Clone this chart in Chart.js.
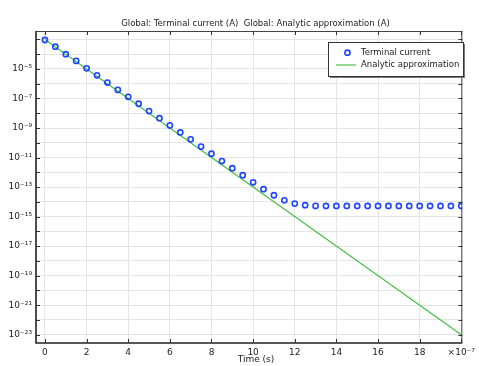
<!DOCTYPE html>
<html>
<head>
<meta charset="utf-8">
<script src="https://cdn.jsdelivr.net/npm/chart.js@4/dist/chart.umd.min.js"></script>
<style>
  html, body { margin:0; padding:0; background:#fff; }
</style>
</head>
<body>
<canvas id="chart" width="479" height="366"></canvas>
<script>
// time in units of 1e-7 s
let timeValues = [0, 0.5, 1, 1.5, 2, 2.5, 3, 3.5, 4, 4.5, 5, 5.5, 6, 6.5, 7, 7.5, 8, 8.5, 9, 9.5,
  10, 10.5, 11, 11.5, 12, 12.5, 13, 13.5, 14, 14.5, 15, 15.5, 16, 16.5, 17, 17.5, 18, 18.5, 19, 19.5, 20];
let terminalCurrent = [9.1e-4, 3.2e-4, 1.0e-4, 3.5e-5, 1.1e-5, 3.7e-6, 1.2e-6, 3.8e-7, 1.3e-7, 4.4e-8,
  1.4e-8, 4.6e-9, 1.5e-9, 5.0e-10, 1.7e-10, 5.5e-11, 1.8e-11, 5.8e-12, 1.9e-12, 6.3e-13,
  2.1e-13, 7.2e-14, 2.8e-14, 1.26e-14, 7.6e-15, 5.9e-15, 5.3e-15, 5.25e-15, 5.25e-15, 5.25e-15,
  5.25e-15, 5.25e-15, 5.25e-15, 5.25e-15, 5.25e-15, 5.25e-15, 5.25e-15, 5.25e-15, 5.25e-15, 5.25e-15, 5.25e-15];
let analyticTime = [0, 10, 20];
let analyticValues = [1e-3, 1e-13, 1e-23];
let timeTicks = [0, 2, 4, 6, 8, 10, 12, 14, 16, 18, 20];
let decadeExps = [-23, -22, -21, -20, -19, -18, -17, -16, -15, -14, -13, -12, -11, -10, -9, -8, -7, -6, -5, -4, -3];
let labelExps = [-23, -21, -19, -17, -15, -13, -11, -9, -7, -5];

const FONT = 'DejaVu Sans';

function sup(n){
  let map = {'-':'⁻','0':'⁰','1':'¹','2':'²','3':'³','4':'⁴','5':'⁵','6':'⁶','7':'⁷','8':'⁸','9':'⁹'};
  return String(n).split('').map(c => map[c]).join('');
}

// frame, inward ticks, titles and legend
const decor = {
  id: 'decor',
  afterDraw(chart){
    let ctx = chart.ctx;
    let a = chart.chartArea;
    let x = chart.scales.x, y = chart.scales.y;
    ctx.save();

    ctx.strokeStyle = '#444';
    ctx.lineWidth = 1;
    ctx.beginPath();
    ctx.moveTo(a.left, a.top + 0.5); ctx.lineTo(a.right, a.top + 0.5);
    ctx.moveTo(a.right - 0.5, a.top); ctx.lineTo(a.right - 0.5, a.bottom);
    ctx.stroke();
    ctx.strokeStyle = '#222';
    ctx.lineWidth = 1.6;
    ctx.beginPath();
    ctx.moveTo(a.left, a.top); ctx.lineTo(a.left, a.bottom);
    ctx.lineTo(a.right, a.bottom);
    ctx.stroke();

    ctx.strokeStyle = '#333';
    ctx.lineWidth = 1;
    ctx.beginPath();
    decadeExps.forEach(e => {
      let py = Math.round(y.getPixelForValue(Math.pow(10, e))) + 0.5;
      ctx.moveTo(a.left, py); ctx.lineTo(a.left + 4, py);
      ctx.moveTo(a.right, py); ctx.lineTo(a.right - 4, py);
    });
    timeTicks.forEach(t => {
      let px = Math.round(x.getPixelForValue(t)) + 0.5;
      ctx.moveTo(px, a.bottom); ctx.lineTo(px, a.bottom - 4);
      ctx.moveTo(px, a.top); ctx.lineTo(px, a.top + 4);
    });
    ctx.stroke();

    ctx.fillStyle = '#222';
    ctx.font = '8.5px "' + FONT + '"';
    ctx.textAlign = 'center';
    ctx.textBaseline = 'middle';
    ctx.fillText('Global: Terminal current (A)  Global: Analytic approximation (A)', 255.5, 23.5);
    ctx.font = '9px "' + FONT + '"';
    ctx.fillText('Time (s)', 256, 360);

    // legend
    let lx = 328.5, ly = 42.5, lw = 135, lh = 34;
    ctx.fillStyle = '#777';
    ctx.fillRect(lx + 1.5, ly + 1.5, lw, lh);
    ctx.fillStyle = '#fff';
    ctx.fillRect(lx, ly, lw, lh);
    ctx.strokeStyle = '#333';
    ctx.lineWidth = 1;
    ctx.strokeRect(lx, ly, lw, lh);

    ctx.strokeStyle = '#1f45ff';
    ctx.lineWidth = 1.6;
    ctx.beginPath();
    ctx.arc(347.5, 52.7, 2.6, 0, Math.PI * 2);
    ctx.stroke();
    ctx.strokeStyle = '#4cc24c';
    ctx.lineWidth = 1.2;
    ctx.beginPath();
    ctx.moveTo(336, 65); ctx.lineTo(356, 65);
    ctx.stroke();

    ctx.fillStyle = '#222';
    ctx.font = '8.5px "' + FONT + '"';
    ctx.textAlign = 'left';
    ctx.fillText('Terminal current', 361, 53);
    ctx.fillText('Analytic approximation', 361, 65);
    ctx.restore();
  }
};

let ctx = document.getElementById('chart').getContext('2d');
let myChart = new Chart(ctx, {
  type: 'scatter',
  data: {
    datasets: [
      {
        label: 'Terminal current',
        data: timeValues.map((t, i) => ({x: t, y: terminalCurrent[i]})),
        showLine: false,
        pointStyle: 'circle',
        pointRadius: 2.6,
        pointBorderWidth: 1.6,
        borderColor: '#1f45ff',
        backgroundColor: 'rgba(0,0,0,0)',
        order: 1
      },
      {
        label: 'Analytic approximation',
        data: analyticTime.map((t, i) => ({x: t, y: analyticValues[i]})),
        showLine: true,
        pointRadius: 0,
        borderWidth: 1.2,
        borderColor: '#44bf44',
        order: 2
      }
    ]
  },
  options: {
    responsive: false,
    animation: false,
    devicePixelRatio: 1,
    layout: { padding: { left: 0, right: 12.5, top: 31, bottom: 0 } },
    plugins: {
      legend: { display: false },
      title: { display: false },
      tooltip: { enabled: false }
    },
    scales: {
      x: {
        type: 'linear',
        min: -0.43,
        max: 20.05,
        afterBuildTicks: (scale) => { scale.ticks = timeTicks.map(v => ({value: v})); },
        afterFit: (scale) => { scale.height = 23; },
        ticks: {
          callback: (v) => v === 20 ? '×10' + sup(-7) : String(v),
          font: { family: FONT, size: 9 },
          color: '#222',
          padding: 4,
          maxRotation: 0,
          autoSkip: false
        },
        grid: { color: '#e4e4e4', drawTicks: false, tickLength: 0 },
        border: { display: false }
      },
      y: {
        type: 'logarithmic',
        min: Math.pow(10, -23.56),
        max: Math.pow(10, -2.43),
        afterBuildTicks: (scale) => { scale.ticks = decadeExps.map(e => ({value: Math.pow(10, e)})); },
        afterFit: (scale) => { scale.width = 36; },
        ticks: {
          callback: (v) => {
            let e = Math.round(Math.log10(v));
            return labelExps.includes(e) ? '10' + sup(e) : '';
          },
          font: { family: FONT, size: 9 },
          color: '#222',
          padding: 4,
          autoSkip: false
        },
        grid: { color: '#e4e4e4', drawTicks: false, tickLength: 0 },
        border: { display: false }
      }
    }
  },
  plugins: [decor]
});
</script>
</body>
</html>
